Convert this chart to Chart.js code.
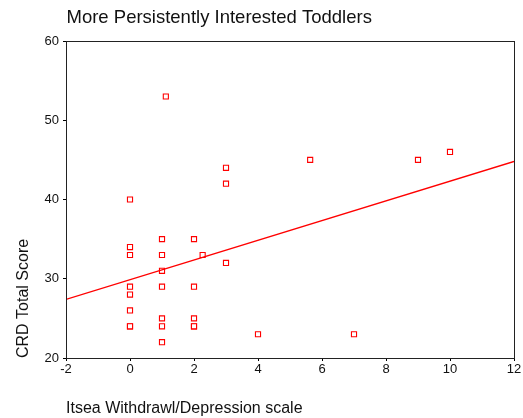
<!DOCTYPE html>
<html>
<head>
<meta charset="utf-8">
<script src="https://cdn.jsdelivr.net/npm/chart.js@4/dist/chart.umd.min.js"></script>
<style>
  html, body { margin: 0; padding: 0; background: #fff; }
  #wrap { width: 523px; height: 418px; }
</style>
</head>
<body>
<div id="wrap"><canvas id="chart" width="523" height="418"></canvas></div>
<script>
// Chart data
const chartTitle = 'More Persistently Interested Toddlers';
const xLabel = 'Itsea Withdrawl/Depression scale';
const yLabel = 'CRD Total Score';

// scatter points (withdrawal score, CRD total score)
const withdrawal = [0, 0, 0, 0, 0, 0, 0, 0,
  1, 1, 1, 1, 1, 1, 1, 1.12,
  2, 2, 2, 2, 2, 2.27,
  3, 3, 3, 4, 5.63, 7, 9, 10];
const crdScore = [40, 34, 33, 29, 28, 26, 24, 24,
  35, 33, 31, 29, 25, 24, 22, 53,
  35, 29, 25, 24, 24, 33,
  44, 42, 32, 23, 45, 23, 45, 46];

// fit line end points, as drawn at the x axis limits
const fitX = [-2, 12];
const fitY = [27.4, 44.8];

const xTicks = { min: -2, max: 12, step: 2 };
const yTicks = { min: 20, max: 60, step: 10 };

const FONT = '"Liberation Sans", Arial, sans-serif';
const RED = '#ff0000';

// Frame round the plot area and the chart title
const framePlugin = {
  id: 'frame',
  afterDraw(chart) {
    const { ctx, chartArea } = chart;
    ctx.save();
    ctx.strokeStyle = '#222';
    ctx.lineWidth = 1;
    ctx.strokeRect(Math.round(chartArea.left) + 0.5, Math.round(chartArea.top) + 0.5,
      Math.round(chartArea.right - chartArea.left), Math.round(chartArea.bottom - chartArea.top));
    ctx.fillStyle = '#111';
    ctx.font = '18.5px ' + FONT;
    ctx.textBaseline = 'alphabetic';
    ctx.textAlign = 'left';
    ctx.fillText(chartTitle, 66.5, 23);
    ctx.restore();
  }
};

const scatterPoints = withdrawal.map((x, i) => ({ x: x, y: crdScore[i] }));
const fitPoints = fitX.map((x, i) => ({ x: x, y: fitY[i] }));

const ctx = document.getElementById('chart').getContext('2d');
const chart = new Chart(ctx, {
  type: 'scatter',
  data: {
    datasets: [
      {
        type: 'line',
        data: fitPoints,
        borderColor: RED,
        borderWidth: 1.3,
        pointRadius: 0,
        fill: false,
        tension: 0,
      },
      {
        type: 'scatter',
        data: scatterPoints,
        pointStyle: 'rect',
        pointRadius: 3.6,
        borderWidth: 1.1,
        borderColor: RED,
        backgroundColor: '#fff',
      },
    ],
  },
  options: {
    responsive: false,
    animation: false,
    layout: { padding: { top: 41, right: 9, left: 0, bottom: 0 } },
    plugins: {
      legend: { display: false },
      tooltip: { enabled: false },
      title: { display: false },
    },
    scales: {
      x: {
        type: 'linear',
        min: xTicks.min,
        max: xTicks.max,
        afterFit(scale) { scale.height = 60; },
        ticks: {
          stepSize: xTicks.step,
          color: '#111',
          padding: 1,
          font: { family: FONT, size: 13 },
        },
        grid: { drawOnChartArea: false, tickLength: 3, color: '#000' },
        border: { color: '#222', width: 1 },
        title: {
          display: true,
          text: xLabel,
          align: 'start',
          color: '#111',
          padding: { top: 0, bottom: 0 },
          font: { family: FONT, size: 16 },
        },
      },
      y: {
        type: 'linear',
        min: yTicks.min,
        max: yTicks.max,
        afterFit(scale) { scale.width = 66; },
        ticks: {
          stepSize: yTicks.step,
          color: '#111',
          padding: 4,
          font: { family: FONT, size: 13 },
        },
        grid: { drawOnChartArea: false, tickLength: 3, color: '#000' },
        border: { color: '#222', width: 1 },
        title: {
          display: true,
          text: yLabel,
          align: 'start',
          color: '#111',
          padding: { top: 14.4, bottom: 0 },
          font: { family: FONT, size: 16 },
        },
      },
    },
  },
  plugins: [framePlugin],
});
</script>
</body>
</html>
